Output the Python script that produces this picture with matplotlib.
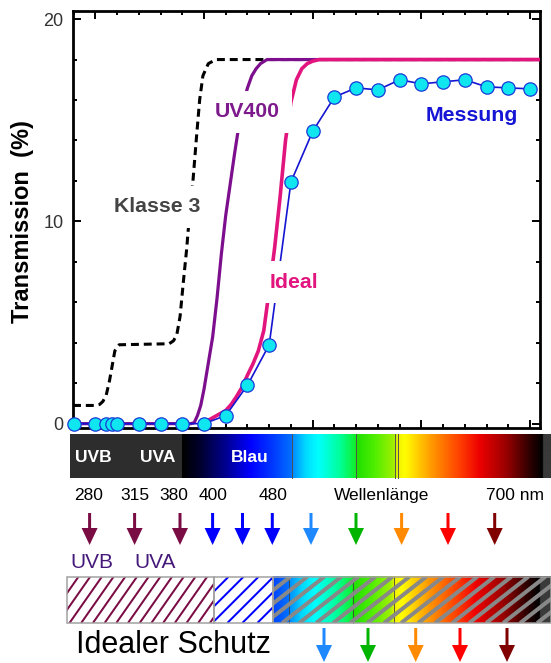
import numpy as np
import matplotlib
matplotlib.use("Agg")
import matplotlib.pyplot as plt
from matplotlib.patches import Rectangle
from matplotlib.colors import LinearSegmentedColormap, to_rgb
from matplotlib.ticker import MultipleLocator

plt.rcParams['font.family'] = ['Liberation Sans', 'DejaVu Sans']

# ---------------- data ----------------
meas_wl = [280, 300, 310, 315, 320, 340, 360, 380, 400, 420, 440, 460, 480,
           500, 520, 540, 560, 580, 600, 620, 640, 660, 680, 700]
meas_T = [0, 0, 0, 0, 0, 0, 0, 0, 0, 0.4, 1.9, 3.9, 11.95,
          14.45, 16.15, 16.6, 16.5, 17.0, 16.8, 16.9, 17.0, 16.65, 16.6, 16.55]

ideal_wl = [396, 400, 405, 410, 415, 420, 425, 430, 435, 440, 445, 450, 455,
            460, 465, 470, 475, 480, 485, 490, 495, 500, 506, 709]
ideal_T = [0, 0.05, 0.2, 0.35, 0.5, 0.65, 0.95, 1.35, 1.8, 2.4, 2.95, 3.6, 4.6,
           6.6, 8.7, 11.2, 14.0, 15.9, 17.0, 17.55, 17.8, 17.92, 18.0, 18.0]

uv400_wl = [279.5, 388, 391, 394, 397, 400, 404, 408, 412, 416, 420, 424, 428,
            432, 436, 440, 444, 448, 452, 458, 709]
uv400_T = [0, 0, 0.05, 0.4, 0.9, 1.7, 3.0, 4.3, 6.2, 8.4, 10.3, 11.8, 13.3,
           14.7, 15.8, 16.6, 17.2, 17.55, 17.8, 18.0, 18.0]

klasse3_wl = [279.5, 300, 304, 307, 310, 313, 316, 318, 322, 368, 372, 375, 378,
              381, 384, 386, 390, 393, 396, 399, 404, 411, 709]
klasse3_T = [0.9, 0.9, 0.95, 1.1, 1.4, 2.1, 3.0, 3.6, 3.9, 3.95, 4.1, 4.4, 5.3,
             7.0, 8.6, 9.9, 12.1, 14.1, 16.0, 17.2, 17.8, 18.0, 18.0]

bar_labels = ["UVB", "UVA", "Blau"]
wl_labels = ["280", "315", "380", "400", "480", "Wellenlänge", "700 nm"]
top_arrow_colors = ["#7a0c44", "#7a0c44", "#7a0c44", "#0000ff", "#0000ff", "#0000ff",
                    "#1e88ff", "#00b400", "#ff8a00", "#ff0000", "#800000"]
bottom_arrow_colors = ["#1e88ff", "#00b400", "#ff8a00", "#ff0000", "#800000"]
uv_labels = ["UVB", "UVA"]
schutz_label = "Idealer Schutz"

# spectrum colour stops (pixel x, colour)
spec_stops = [(182, "#000000"), (200, "#000030"), (225, "#000090"), (250, "#0000ff"),
              (275, "#0040ff"), (291, "#0070ff"), (293, "#0090ff"), (305, "#00d8ff"),
              (318, "#00ffff"), (340, "#00ff99"), (355, "#10f030"), (357, "#20e000"),
              (375, "#50ee00"), (394, "#a0f000"), (398, "#f0f000"), (405, "#ffff00"),
              (432, "#ff9900"), (460, "#ff4000"), (480, "#ee0000"), (507, "#990000"),
              (530, "#300000"), (543, "#000000")]

# ---------------- figure ----------------
W, H = 551, 663
fig = plt.figure(figsize=(W / 100, H / 100), dpi=100)
PX = 72 / 100  # points per pixel

ov = fig.add_axes([0, 0, 1, 1], zorder=0)
ov.set_xlim(0, W)
ov.set_ylim(H, 0)
ov.axis('off')

ax = fig.add_axes([73 / W, 1 - 427.7 / H, 467 / W, 416.7 / H], zorder=1)

# main curves
ax.plot(klasse3_wl, klasse3_T, color='black', lw=2.2, ls=(0, (2.6, 1.6)), zorder=2)
ax.plot(uv400_wl, uv400_T, color='#7d0f8e', lw=2.3, zorder=3, solid_capstyle='butt')
ax.plot(ideal_wl, ideal_T, color='#e2157e', lw=2.6, zorder=4, solid_capstyle='butt')
ax.plot(meas_wl, meas_T, color='#1414d2', lw=1.2, zorder=5,
        marker='o', ms=9.6, mfc='#10e6f0', mec='#1a3ad8', mew=0.9, clip_on=False)

box = dict(boxstyle='square,pad=0.55', fc='white', ec='none')
ax.text(440, 15.15, "UV400", color='#7d1a8c', fontsize=15.3, fontweight='bold',
        ha='center', va='baseline', zorder=6, bbox=box)
ax.text(646, 14.97, "Messung", color='#1515d5', fontsize=15.3, fontweight='bold',
        ha='center', va='baseline', zorder=6)
ax.text(357, 10.45, "Klasse 3", color='#444444', fontsize=15.3, fontweight='bold',
        ha='center', va='baseline', zorder=6, bbox=box)
ax.text(482.4, 6.73, "Ideal", color='#e2157e', fontsize=15.3, fontweight='bold',
        ha='center', va='baseline', zorder=6, bbox=box)

ax.set_xlim(279.5, 709.1)
ax.set_ylim(-0.2, 20.4)
ax.xaxis.set_major_locator(MultipleLocator(100))
ax.xaxis.set_minor_locator(MultipleLocator(20))
ax.yaxis.set_major_locator(MultipleLocator(10))
ax.yaxis.set_minor_locator(MultipleLocator(2))
ax.tick_params(which='both', direction='in', top=True, right=True, width=1.4,
               labelbottom=False, labelsize=13, labelcolor='#333333', pad=7)
ax.tick_params(which='major', length=5.8)
ax.tick_params(which='minor', length=3.2)
for s in ax.spines.values():
    s.set_linewidth(2.0)
fig.text(22.5 / W, 1 - 222 / H, "Transmission  (%)", rotation=90, fontsize=17,
         fontweight='bold', ha='center', va='center')

# ---------------- spectrum helpers ----------------
x0s, x1s = spec_stops[0][0], spec_stops[-1][0]
cmap = LinearSegmentedColormap.from_list(
    'spec', [((p - x0s) / (x1s - x0s), c) for p, c in spec_stops])
END_GRAY = np.array(to_rgb('#3a3a3a'))


def spectrum_rgb(xpix):
    xpix = np.asarray(xpix, float)
    rgb = cmap(np.clip((xpix - x0s) / (x1s - x0s), 0, 1))[:, :3]
    rgb[xpix > x1s] = END_GRAY
    return rgb


def spectrum_image(xa, xb, ya, yb, shift=0.0):
    xs = np.linspace(xa, xb, int((xb - xa) * 2))
    img = spectrum_rgb(xs + shift)[None, :, :]
    ov.imshow(img, extent=(xa, xb, yb, ya), aspect='auto', interpolation='bilinear',
              zorder=1)


def hatch(x0, x1, y0, y1, spacing, angle, color, lw, z=3):
    clip = Rectangle((x0, y0), x1 - x0, y1 - y0, fc='none', ec='none')
    ov.add_patch(clip)
    dx = (y1 - y0) / np.tan(np.radians(angle))
    for xb in np.arange(x0 - dx - spacing, x1 + spacing, spacing):
        ln, = ov.plot([xb, xb + dx], [y1, y0], color=color, lw=lw, zorder=z,
                      solid_capstyle='butt')
        ln.set_clip_path(clip)


# ---------------- top spectral bar ----------------
bar_y0, bar_y1 = 434, 478
ov.add_patch(Rectangle((70, bar_y0), 182 - 70, bar_y1 - bar_y0, fc='#2d2d2d', ec='none', zorder=1))
spectrum_image(182, 551, bar_y0, bar_y1)
for xl in [292, 355.7, 395, 397.5]:
    ov.plot([xl, xl], [bar_y0, bar_y1], color='#505050', lw=0.7, zorder=2)
for lab, xc in zip(bar_labels, [93, 158, 249.5]):
    ov.text(xc, 457, lab, color='white', fontsize=12.5, fontweight='bold',
            ha='center', va='center', zorder=3)

for lab, xc in zip(wl_labels, [89, 134.6, 174, 212.6, 273.4, 382, 514.7]):
    ov.text(xc, 495.5, lab, color='black', fontsize=12.5, ha='center', va='center')

# arrows row 1
for c, xc in zip(top_arrow_colors, [89.6, 134.6, 180, 212.6, 242.5, 272.3, 311, 356,
                                     401.6, 448, 494.7]):
    ov.arrow(xc, 513, 0, 32, width=3, head_width=16, head_length=17,
             length_includes_head=True, color=c, lw=0)

for lab, xc in zip(uv_labels, [92, 155.5]):
    ov.text(xc, 562.5, lab, color='#45197a', fontsize=15, ha='center', va='center')

# hatched protection bar
hb_y0, hb_y1 = 576.7, 623
ov.add_patch(Rectangle((66.8, hb_y0), 213.6 - 66.8, hb_y1 - hb_y0, fc='white', ec='none', zorder=1))
ov.add_patch(Rectangle((213.6, hb_y0), 273.4 - 213.6, hb_y1 - hb_y0, fc='white', ec='none', zorder=1))
spectrum_image(273.4, 551, hb_y0, hb_y1, shift=3)
for xl in [289, 353, 393.5]:
    ov.plot([xl, xl], [hb_y0, hb_y1], color='#404040', lw=0.6, zorder=2)
hatch(66.8, 213.6, hb_y0, hb_y1, 11.7, 55, '#7a0c44', 2 * PX)
hatch(213.6, 273.4, hb_y0, hb_y1, 15, 45, '#0000ff', 2 * PX)
hatch(273.4, 551, hb_y0, hb_y1, 17, 38, '#888888', 4 * PX)
for xa, xb in [(66.8, 213.6), (213.6, 273.4), (273.4, 550.5)]:
    ov.add_patch(Rectangle((xa, hb_y0), xb - xa, hb_y1 - hb_y0, fc='none',
                           ec='#a0a0a0', lw=1.5 * PX, zorder=4))

ov.text(173, 645, schutz_label, color='black', fontsize=22, ha='center', va='center')

for c, xc in zip(bottom_arrow_colors, [324, 368, 415.7, 460, 507]):
    ov.arrow(xc, 628, 0, 34, width=3, head_width=16, head_length=17,
             length_includes_head=True, color=c, lw=0)

ov.set_xlim(0, W)
ov.set_ylim(H, 0)

fig.savefig("out.png", dpi=100)
